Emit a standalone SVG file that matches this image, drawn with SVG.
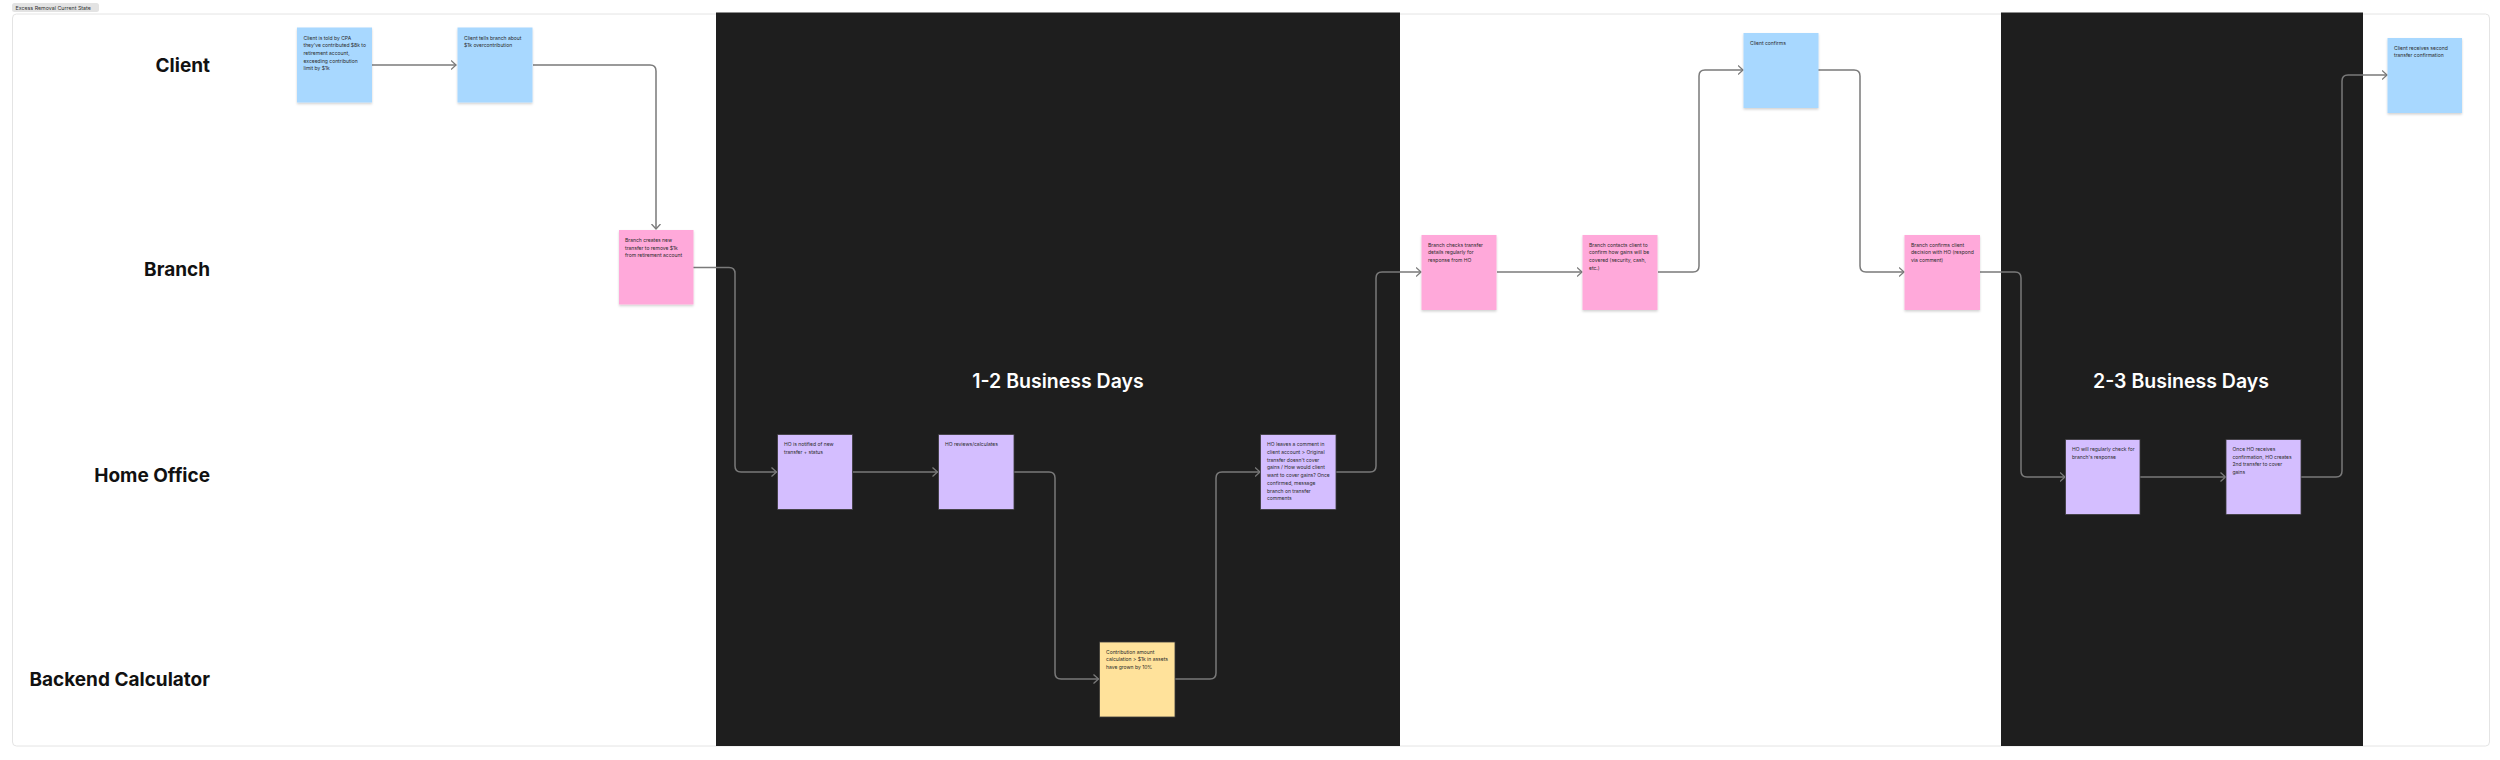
<svg xmlns="http://www.w3.org/2000/svg" width="2500" height="760" viewBox="0 0 2500 760">
<defs>
<filter id="sh" x="-10%" y="-10%" width="130%" height="130%">
<feDropShadow dx="0" dy="1.5" stdDeviation="1" flood-color="#000" flood-opacity="0.18"/>
</filter>
<marker id="ah" markerWidth="10" markerHeight="12" refX="5.5" refY="5" orient="auto" markerUnits="userSpaceOnUse">
<path d="M0.5,0.5 L5.5,5 L0.5,9.5" fill="none" stroke="#7a7a7a" stroke-width="1.3"/>
</marker>
</defs>
<style>
.lane{font-family:Inter,"Liberation Sans",sans-serif;font-weight:700;font-size:19px;fill:#111;text-anchor:end}
.days{font-family:Inter,"Liberation Sans",sans-serif;font-weight:600;font-size:19.5px;fill:#fff;text-anchor:middle}
.t{font-family:Inter,"Liberation Sans",sans-serif;font-size:5px;fill:#2b2b2b}
.blue{fill:#A8D8FF}
.pink{fill:#FFA9DA}
.purple{fill:#D4BEFF;stroke:#3a3a3a;stroke-width:0.8}
.yellow{fill:#FFE29B;stroke:#3a3a3a;stroke-width:0.8}
.c{fill:none;stroke:#7a7a7a;stroke-width:1.5;marker-end:url(#ah)}
</style>
<rect width="2500" height="760" fill="#fff"/>
<rect x="12.5" y="14" width="2477" height="732" rx="4" fill="#fff" stroke="#e4e4e4" stroke-width="1"/>
<rect x="12" y="3" width="87" height="9" rx="2.5" fill="#e3e3e3"/>
<text x="15.5" y="9.6" font-family="Inter,'Liberation Sans',sans-serif" font-size="5.3" fill="#333">Excess Removal Current State</text>
<rect x="716" y="12.5" width="684" height="733.5" fill="#1e1e1e"/>
<rect x="2001" y="12.5" width="362" height="733.5" fill="#1e1e1e"/>
<text class="days" x="1058" y="388">1-2 Business Days</text>
<text class="days" x="2181" y="388">2-3 Business Days</text>
<g id="lanes">
<text class="lane" x="210" y="72">Client</text>
<text class="lane" x="210" y="276">Branch</text>
<text class="lane" x="210" y="482">Home Office</text>
<text class="lane" x="210" y="686">Backend Calculator</text>
</g>
<g id="connectors">
<path class="c" d="M372,65 H456"/>
<path class="c" d="M533,65 H650 Q656,65 656,71 V229"/>
<path class="c" d="M693,267.5 H729 Q735,267.5 735,273.5 V466 Q735,472 741,472 H776.5"/>
<path class="c" d="M853,472 H937.5"/>
<path class="c" d="M1014,472 H1049 Q1055,472 1055,478 V673 Q1055,679 1061,679 H1098.5"/>
<path class="c" d="M1175,679 H1210 Q1216,679 1216,673 V478 Q1216,472 1222,472 H1260"/>
<path class="c" d="M1336,472 H1370 Q1376,472 1376,466 V278 Q1376,272 1382,272 H1421"/>
<path class="c" d="M1497,272 H1582"/>
<path class="c" d="M1658,272 H1693 Q1699,272 1699,266 V76 Q1699,70 1705,70 H1743"/>
<path class="c" d="M1818,70 H1854 Q1860,70 1860,76 V266 Q1860,272 1866,272 H1904"/>
<path class="c" d="M1980,272 H2015 Q2021,272 2021,278 V471 Q2021,477 2027,477 H2065"/>
<path class="c" d="M2140,477 H2225.5"/>
<path class="c" d="M2301,477 H2336 Q2342,477 2342,471 V81 Q2342,75 2348,75 H2387"/>
</g>
<g id="n1">
<rect class="blue" x="297" y="27.5" width="75" height="75" filter="url(#sh)"/>
<text class="t"><tspan x="303.5" y="39.5">Client is told by CPA</tspan><tspan x="303.5" y="47.2">they've contributed $8k to</tspan><tspan x="303.5" y="54.9">retirement account,</tspan><tspan x="303.5" y="62.6">exceeding contribution</tspan><tspan x="303.5" y="70.3">limit by $1k</tspan></text>
</g>
<g id="n2">
<rect class="blue" x="457.5" y="27.5" width="75" height="75" filter="url(#sh)"/>
<text class="t"><tspan x="464" y="39.5">Client tells branch about</tspan><tspan x="464" y="47.2">$1k overcontribution</tspan></text>
</g>
<g id="n3">
<rect class="pink" x="619" y="230" width="74.5" height="74.5" filter="url(#sh)"/>
<text class="t"><tspan x="625" y="241.8">Branch creates new</tspan><tspan x="625" y="249.5">transfer to remove $1k</tspan><tspan x="625" y="257.2">from retirement account</tspan></text>
</g>
<g id="n4">
<rect class="purple" x="777.5" y="434.5" width="75" height="75"/>
<text class="t"><tspan x="784" y="446">HO is notified of new</tspan><tspan x="784" y="453.7">transfer + status</tspan></text>
</g>
<g id="n5">
<rect class="purple" x="938.5" y="434.5" width="75.5" height="75"/>
<text class="t"><tspan x="945" y="446">HO reviews/calculates</tspan></text>
</g>
<g id="n6">
<rect class="yellow" x="1099.5" y="642" width="75.5" height="75"/>
<text class="t"><tspan x="1106" y="653.5">Contribution amount</tspan><tspan x="1106" y="661.2">calculation &gt; $1k in assets</tspan><tspan x="1106" y="668.9">have grown by 10%</tspan></text>
</g>
<g id="n7">
<rect class="purple" x="1260.5" y="434.5" width="75.5" height="75"/>
<text class="t"><tspan x="1267" y="446.3">HO leaves a comment in</tspan><tspan x="1267" y="454">client account &gt; Original</tspan><tspan x="1267" y="461.7">transfer doesn't cover</tspan><tspan x="1267" y="469.4">gains / How would client</tspan><tspan x="1267" y="477.1">want to cover gains? Once</tspan><tspan x="1267" y="484.8">confirmed, message</tspan><tspan x="1267" y="492.5">branch on transfer</tspan><tspan x="1267" y="500.2">comments</tspan></text>
</g>
<g id="n8">
<rect class="pink" x="1421.5" y="235" width="75" height="75" filter="url(#sh)"/>
<text class="t"><tspan x="1428" y="246.5">Branch checks transfer</tspan><tspan x="1428" y="254.2">details regularly for</tspan><tspan x="1428" y="261.9">response from HO</tspan></text>
</g>
<g id="n9">
<rect class="pink" x="1582.5" y="235" width="75" height="75" filter="url(#sh)"/>
<text class="t"><tspan x="1589" y="246.5">Branch contacts client to</tspan><tspan x="1589" y="254.2">confirm how gains will be</tspan><tspan x="1589" y="261.9">covered (security, cash,</tspan><tspan x="1589" y="269.6">etc.)</tspan></text>
</g>
<g id="n10">
<rect class="blue" x="1743.5" y="33" width="75" height="75" filter="url(#sh)"/>
<text class="t"><tspan x="1750" y="44.5">Client confirms</tspan></text>
</g>
<g id="n11">
<rect class="pink" x="1904.5" y="235" width="75.5" height="75" filter="url(#sh)"/>
<text class="t"><tspan x="1911" y="246.5">Branch confirms client</tspan><tspan x="1911" y="254.2">decision with HO (respond</tspan><tspan x="1911" y="261.9">via comment)</tspan></text>
</g>
<g id="n12">
<rect class="purple" x="2065.5" y="439.5" width="74.5" height="75"/>
<text class="t"><tspan x="2072" y="451">HO will regularly check for</tspan><tspan x="2072" y="458.7">branch's response</tspan></text>
</g>
<g id="n13">
<rect class="purple" x="2226" y="439.5" width="75" height="75"/>
<text class="t"><tspan x="2232.5" y="451">Once HO receives</tspan><tspan x="2232.5" y="458.7">confirmation, HO creates</tspan><tspan x="2232.5" y="466.4">2nd transfer to cover</tspan><tspan x="2232.5" y="474.1">gains</tspan></text>
</g>
<g id="n14">
<rect class="blue" x="2387.5" y="38" width="74.5" height="75" filter="url(#sh)"/>
<text class="t"><tspan x="2394" y="49.5">Client receives second</tspan><tspan x="2394" y="57.2">transfer confirmation</tspan></text>
</g>
</svg>
